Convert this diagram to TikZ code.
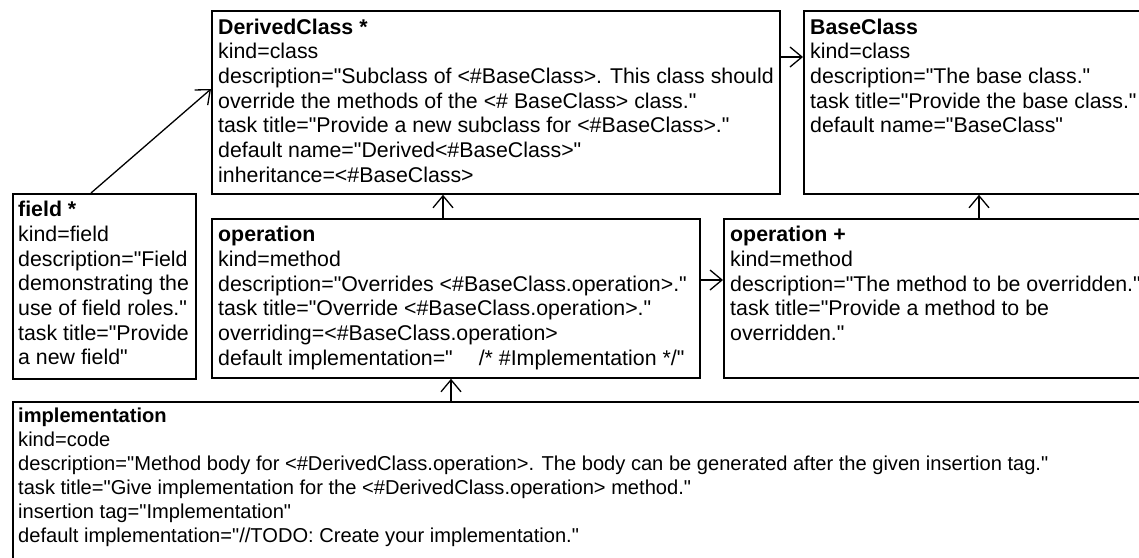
\documentclass[tikz,border=0pt]{standalone}
\usepackage{fontspec}
\setmainfont{Liberation Sans}[Ligatures=TeXOff]
\usetikzlibrary{arrows.meta,calc}
\begin{document}
\begin{tikzpicture}[x=1pt,y=-1pt,
  box/.style={draw=black, line width=1.8pt, rectangle, inner sep=0pt, anchor=north west},
  txt/.style={anchor=north west, inner sep=0pt, align=left, font=\fontsize{21.33}{24.7}\selectfont},
  smalltxt/.style={anchor=north west, inner sep=0pt, align=left, font=\fontsize{20.1}{24}\selectfont},
  arr/.style={line width=1.3pt, -{Straight Barb[length=12pt,width=20pt,line width=1.3pt]}}]
\useasboundingbox (0,0) rectangle (1139,557);
\clip (0,0) rectangle (1139,557);
\fill[white] (0,0) rectangle (1139,557);
% boxes
\node[box, minimum width=568pt, minimum height=183pt] (derived) at (211,10) {};
\node[box, minimum width=360pt, minimum height=183pt] (base) at (803,10) {};
\node[box, minimum width=183pt, minimum height=185pt] (field) at (12,193) {};
\node[box, minimum width=488pt, minimum height=159pt] (op) at (211,218) {};
\node[box, minimum width=440pt, minimum height=159pt] (opplus) at (723,218) {};
\node[box, minimum width=1150pt, minimum height=180pt] (impl) at (12,401) {};
% texts
\node[txt] (derivedtext) at ($(derived.north west)+(7,6.6)$) {\strut\textbf{DerivedClass *}\\
kind=class\\
description="Subclass of <\#BaseClass>. This class should\\
override the methods of the <\# BaseClass> class."\\
task title="Provide a new subclass for <\#BaseClass>."\\
default name="Derived<\#BaseClass>"\\
inheritance=<\#BaseClass>};
\node[txt] (basetext) at ($(base.north west)+(7,6.6)$) {\strut\textbf{BaseClass}\\
kind=class\\
description="The base class."\\
task title="Provide the base class."\\
default name="BaseClass"};
\node[txt] (fieldtext) at ($(field.north west)+(6,6.2)$) {\strut\textbf{field *}\\
kind=field\\
description="Field\\
demonstrating the\\
use of field roles."\\
task title="Provide\\
a new field"};
\node[txt] (optext) at ($(op.north west)+(7,6.4)$) {\strut\textbf{operation}\\
kind=method\\
description="Overrides <\#BaseClass.operation>."\\
task title="Override <\#BaseClass.operation>."\\
overriding=<\#BaseClass.operation>\\
default implementation="\hspace{26pt}/* \#Implementation */"};
\node[txt] (opplustext) at ($(opplus.north west)+(7,6.4)$) {\strut\textbf{operation +}\\
kind=method\\
description="The method to be overridden."\\
task title="Provide a method to be\\
overridden."};
\node[smalltxt] (impltext) at ($(impl.north west)+(6,4.5)$) {\strut\textbf{implementation}\\
kind=code\\
description="Method body for <\#DerivedClass.operation>. The body can be generated after the given insertion tag."\\
task title="Give implementation for the <\#DerivedClass.operation> method."\\
insertion tag="Implementation"\\
default implementation="//TODO: Create your implementation."};
% connectors
\draw[arr] ([xshift=79pt]field.north west) -- ([yshift=-79pt]derived.north west);
\draw[arr] ([yshift=-47pt]derived.north east) -- ([yshift=-47pt]base.north west);
\draw[arr] ([xshift=232pt]op.north west) -- ([xshift=232pt]derived.south west);
\draw[arr] ([xshift=256pt]opplus.north west) -- ([xshift=176pt]base.south west);
\draw[arr] ([yshift=-62pt]op.north east) -- ([yshift=-62pt]opplus.north west);
\draw[arr] ([xshift=439pt]impl.north west) -- ([xshift=240pt]op.south west);
\end{tikzpicture}
\end{document}
